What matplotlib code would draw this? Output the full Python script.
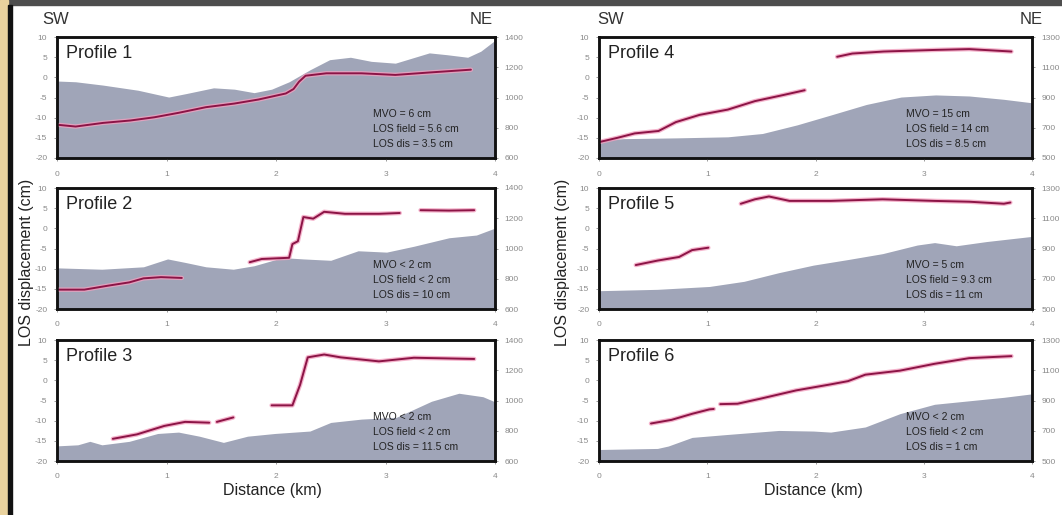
import matplotlib
matplotlib.use("Agg")
import matplotlib.pyplot as plt
from matplotlib.patches import Rectangle

plt.rcParams['font.family'] = ['Liberation Sans', 'DejaVu Sans']
plt.rcParams['axes.unicode_minus'] = False

# ---- data ----
# elevation profiles (distance km, elevation m)
p1_ex = [0, 0.17, 0.42, 0.74, 1.02, 1.18, 1.43, 1.62, 1.80, 1.96, 2.12, 2.31, 2.49, 2.68, 2.87, 3.09, 3.40, 3.56, 3.75, 3.87, 4.0]
p1_ey = [1109, 1104, 1082, 1048, 1003, 1026, 1064, 1055, 1032, 1055, 1104, 1183, 1250, 1266, 1239, 1227, 1295, 1283, 1266, 1306, 1378]
p2_ex = [0, 0.41, 0.79, 1.01, 1.17, 1.36, 1.61, 1.80, 2.06, 2.25, 2.50, 2.75, 3.01, 3.26, 3.58, 3.83, 4.0]
p2_ey = [872, 863, 879, 931, 908, 879, 863, 886, 940, 931, 922, 985, 976, 1015, 1071, 1089, 1135]
p3_ex = [0, 0.19, 0.30, 0.41, 0.66, 0.92, 1.11, 1.30, 1.52, 1.74, 1.99, 2.31, 2.50, 2.78, 3.10, 3.42, 3.67, 3.89, 4.0]
p3_ey = [700, 707, 730, 707, 730, 782, 791, 764, 723, 764, 782, 798, 855, 877, 889, 995, 1048, 1025, 991]
p4_ex = [0, 0.23, 0.71, 1.19, 1.51, 1.83, 2.15, 2.47, 2.79, 3.11, 3.42, 3.74, 4.0]
p4_ey = [617, 628, 633, 640, 662, 719, 786, 854, 903, 917, 910, 888, 865]
p5_ex = [0, 0.54, 1.02, 1.34, 1.66, 1.98, 2.30, 2.62, 2.94, 3.10, 3.30, 3.58, 4.0]
p5_ey = [621, 630, 649, 683, 740, 790, 827, 866, 923, 939, 918, 946, 980]
p6_ex = [0, 0.54, 0.64, 0.86, 1.18, 1.66, 1.98, 2.14, 2.46, 2.78, 3.10, 3.42, 3.74, 4.0]
p6_ey = [576, 583, 599, 656, 675, 702, 698, 691, 725, 813, 875, 898, 921, 944]

# LOS displacement segments (distance km, displacement cm)
p1_los = [([0.02, 0.17, 0.42, 0.67, 0.89, 1.11, 1.36, 1.62, 1.84, 1.99, 2.09, 2.16, 2.21, 2.27, 2.46, 2.78, 3.09, 3.40, 3.78],
           [-11.8, -12.2, -11.3, -10.7, -9.9, -8.8, -7.4, -6.5, -5.5, -4.6, -4.0, -2.9, -1.1, 0.4, 1.0, 1.0, 0.6, 1.2, 1.9])]
p2_los = [([0.0, 0.25, 0.47, 0.66, 0.79, 0.95, 1.14],
           [-15.2, -15.2, -14.2, -13.4, -12.4, -12.1, -12.3]),
          ([1.76, 1.87, 2.12, 2.15, 2.20, 2.25, 2.34, 2.44, 2.63, 2.94, 3.13],
           [-8.4, -7.6, -7.3, -3.9, -3.2, 2.8, 2.4, 4.1, 3.6, 3.6, 3.8]),
          ([3.32, 3.58, 3.81], [4.5, 4.4, 4.5])]
p3_los = [([0.51, 0.73, 0.98, 1.17, 1.39], [-14.5, -13.4, -11.3, -10.3, -10.5]),
          ([1.46, 1.61], [-10.3, -9.2]),
          ([1.96, 2.15, 2.22, 2.29, 2.44, 2.59, 2.94, 3.26, 3.81],
           [-6.2, -6.2, -1.1, 5.7, 6.4, 5.7, 4.7, 5.6, 5.3])]
p4_los = [([0.01, 0.17, 0.33, 0.55, 0.71, 0.93, 1.19, 1.44, 1.70, 1.90],
           [-16.0, -15.0, -13.9, -13.3, -11.1, -9.3, -8.0, -5.9, -4.4, -3.2]),
          ([2.20, 2.34, 2.63, 3.11, 3.42, 3.81], [5.1, 5.9, 6.4, 6.8, 7.0, 6.4])]
p5_los = [([0.34, 0.54, 0.74, 0.86, 1.01], [-9.1, -8.0, -7.1, -5.4, -4.8]),
          ([1.31, 1.44, 1.57, 1.76, 2.14, 2.62, 3.10, 3.42, 3.74, 3.80],
           [6.1, 7.2, 7.9, 6.8, 6.8, 7.2, 6.8, 6.6, 6.1, 6.4])]
p6_los = [([0.48, 0.67, 0.86, 1.02, 1.06], [-10.7, -9.8, -8.3, -7.2, -7.1]),
          ([1.12, 1.28, 1.50, 1.82, 2.14, 2.30, 2.46, 2.78, 3.10, 3.42, 3.81],
           [-5.9, -5.8, -4.5, -2.5, -1.0, -0.2, 1.4, 2.4, 4.1, 5.5, 6.0])]

p1_text = ["MVO = 6 cm", "LOS field = 5.6 cm", "LOS dis = 3.5 cm"]
p2_text = ["MVO < 2 cm", "LOS field < 2 cm", "LOS dis = 10 cm"]
p3_text = ["MVO < 2 cm", "LOS field < 2 cm", "LOS dis = 11.5 cm"]
p4_text = ["MVO = 15 cm", "LOS field = 14 cm", "LOS dis = 8.5 cm"]
p5_text = ["MVO = 5 cm", "LOS field = 9.3 cm", "LOS dis = 11 cm"]
p6_text = ["MVO < 2 cm", "LOS field < 2 cm", "LOS dis = 1 cm"]

left_elev_ticks = [600, 800, 1000, 1200, 1400]
right_elev_ticks = [500, 700, 900, 1100, 1300]
disp_ticks = [-20, -15, -10, -5, 0, 5, 10]
dist_ticks = [0, 1, 2, 3, 4]

W, H = 1062, 515
fig = plt.figure(figsize=(W / 100, H / 100), dpi=100)

# photo-frame remnants around the slide
fig.patches.append(Rectangle((0, 1 - 5 / H), 1, 5 / H, transform=fig.transFigure,
                             color='#4e4e4e', zorder=0))
fig.patches.append(Rectangle((0, 0), 8 / W, 1, transform=fig.transFigure,
                             color='#e9d29e', zorder=0))
fig.patches.append(Rectangle((8 / W, 0), 4 / W, 1 - 5 / H, transform=fig.transFigure,
                             color='#111111', zorder=0))

FILL = '#a0a5b8'
LINE = '#8c1446'
HALO = '#f2a0bf'
TICKC = '#8a8a8a'


def add_panel(px, py, pw, ph, name, ex, ey, los, txt, eticks, text_x):
    ax = fig.add_axes([px / W, 1 - (py + ph) / H, pw / W, ph / H])
    ax2 = ax.twinx()
    ax.set_zorder(ax2.get_zorder() + 1)
    ax.patch.set_visible(False)

    ax2.fill_between(ex, eticks[0], ey, color=FILL, lw=0)
    ax2.set_ylim(eticks[0], eticks[-1])
    ax2.set_yticks(eticks)

    for xs, ys in los:
        ax.plot(xs, ys, color=HALO, lw=3.2, solid_capstyle='round', alpha=0.8)
        ax.plot(xs, ys, color=LINE, lw=1.4, solid_capstyle='round')
    ax.set_xlim(0, 4)
    ax.set_ylim(-20, 10)
    ax.set_xticks(dist_ticks)
    ax.set_yticks(disp_ticks)

    for a in (ax, ax2):
        a.tick_params(labelsize=6, colors=TICKC, length=2, width=0.6, pad=5)
        for s in a.spines.values():
            s.set_linewidth(1.8)
            s.set_color('#111111')
    ax.tick_params(axis='x', pad=7)

    ax.text(0.02, 0.93, name, transform=ax.transAxes, fontsize=13, va='top',
            ha='left', color='#222222')
    for i, t in enumerate(txt):
        ax.text(text_x, -9.2 - 3.7 * i, t, fontsize=7.5, color='#222222',
                va='center', ha='left')
    return ax


add_panel(57, 37, 438, 121, "Profile 1", p1_ex, p1_ey, p1_los, p1_text, left_elev_ticks, 2.89)
add_panel(57, 188, 438, 121, "Profile 2", p2_ex, p2_ey, p2_los, p2_text, left_elev_ticks, 2.89)
add_panel(57, 340, 438, 121, "Profile 3", p3_ex, p3_ey, p3_los, p3_text, left_elev_ticks, 2.89)
add_panel(599, 37, 433, 121, "Profile 4", p4_ex, p4_ey, p4_los, p4_text, right_elev_ticks, 2.84)
add_panel(599, 188, 433, 121, "Profile 5", p5_ex, p5_ey, p5_los, p5_text, right_elev_ticks, 2.84)
add_panel(599, 340, 433, 121, "Profile 6", p6_ex, p6_ey, p6_los, p6_text, right_elev_ticks, 2.84)

# direction labels
for x0, x1 in [(42, 470), (597, 1020)]:
    fig.text(x0 / W, 1 - 20 / H, "SW", fontsize=12, color='#333333', va='center', ha='left')
    fig.text(x1 / W, 1 - 20 / H, "NE", fontsize=12, color='#333333', va='center', ha='left')

# axis titles
for xc in [27, 563]:
    fig.text(xc / W, 1 - 262 / H, "LOS displacement (cm)", rotation=90, fontsize=11.5,
             color='#222222', va='center', ha='center')
for xc in [272, 813]:
    fig.text(xc / W, 1 - 491 / H, "Distance (km)", fontsize=11.5, color='#222222',
             va='center', ha='center')

fig.savefig("out.png", dpi=100)
